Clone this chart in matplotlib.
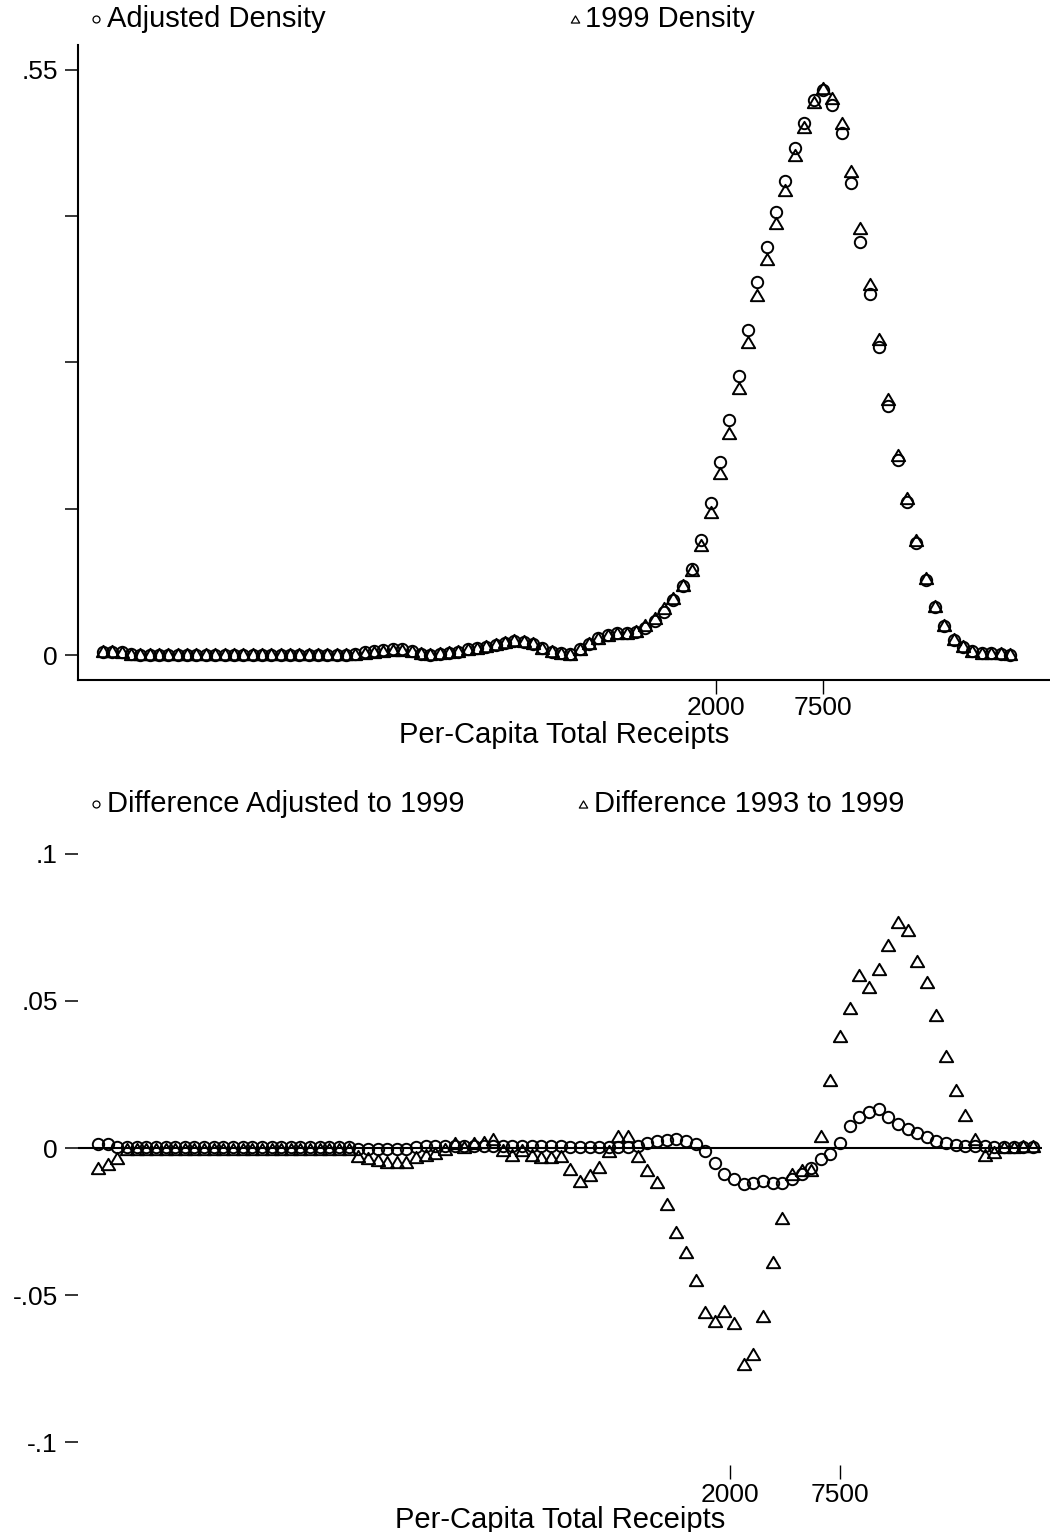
import numpy as np
import matplotlib
matplotlib.use("Agg")
import matplotlib.pyplot as plt
from matplotlib.path import Path
from matplotlib.lines import Line2D

plt.rcParams['font.family'] = ['Liberation Sans', 'DejaVu Sans']

# ---------------- data ----------------
# evaluation grid: log of per-capita total receipts (98 evenly spaced points)
ln_receipts = np.linspace(0.037, 11.23, 98)

density_1999 = [
    0.004, 0.004, 0.003, 0.001,
    0.0005, 0.0005, 0.0005, 0.0005, 0.0005, 0.0005, 0.0005, 0.0005, 0.0005, 0.0005,
    0.0005, 0.0005, 0.0005, 0.0005, 0.0005, 0.0005, 0.0005, 0.0005, 0.0005, 0.0005,
    0.0005, 0.0005, 0.0005,
    0.001, 0.002, 0.003, 0.004, 0.005, 0.005, 0.004, 0.002, 0.001, 0.002,
    0.003, 0.004, 0.006, 0.007, 0.008, 0.010, 0.012, 0.014, 0.013, 0.011,
    0.007, 0.004, 0.002, 0.001, 0.006, 0.011, 0.016, 0.019, 0.021, 0.021,
    0.023, 0.028, 0.035, 0.044, 0.054, 0.066, 0.080, 0.1034, 0.1344, 0.1708,
    0.2087, 0.2507, 0.2946, 0.3385, 0.372, 0.406, 0.437, 0.470, 0.4967, 0.5202,
    0.533, 0.5234, 0.5005, 0.4553, 0.4012, 0.3488, 0.2968, 0.2404, 0.188, 0.1473,
    0.108, 0.072, 0.046, 0.028, 0.015, 0.008, 0.004, 0.002, 0.002, 0.002, 0.001,
]

adjusted_density = [
    0.0026, 0.0026, 0.0025, 0.0007,
    0.0003, 0.0003, 0.0003, 0.0003, 0.0003, 0.0003, 0.0003, 0.0003, 0.0003, 0.0003,
    0.0003, 0.0003, 0.0003, 0.0003, 0.0003, 0.0003, 0.0003, 0.0003, 0.0003, 0.0003,
    0.0003, 0.0003, 0.0003,
    0.0014, 0.0024, 0.0034, 0.0044, 0.0054, 0.0054, 0.0035, 0.0012, 0.0002, 0.0012,
    0.0022, 0.0032, 0.0052, 0.0062, 0.0072, 0.0092, 0.0112, 0.0132, 0.0122, 0.0102,
    0.0062, 0.0032, 0.0017, 0.0007, 0.0057, 0.0107, 0.0157, 0.0187, 0.0207, 0.0204,
    0.0213, 0.0256, 0.0324, 0.0409, 0.0516, 0.0648, 0.081, 0.1085, 0.1431, 0.1815,
    0.2208, 0.2626, 0.3058, 0.3504, 0.3839, 0.4167, 0.4457, 0.4767, 0.5004, 0.5221,
    0.5313, 0.5170, 0.4910, 0.4440, 0.3885, 0.3390, 0.2893, 0.2345, 0.1835, 0.1440,
    0.1057, 0.0703, 0.0451, 0.0273, 0.0143, 0.0072, 0.0035, 0.0020, 0.0017, 0.0014, 0.0003,
]

diff_adjusted_to_1999 = [
    0.0014, 0.0014, 0.0005, 0.0003,
    0.0002, 0.0002, 0.0002, 0.0002, 0.0002, 0.0002, 0.0002, 0.0002, 0.0002, 0.0002,
    0.0002, 0.0002, 0.0002, 0.0002, 0.0002, 0.0002, 0.0002, 0.0002, 0.0002, 0.0002,
    0.0002, 0.0002, 0.0002,
    -0.0004, -0.0004, -0.0004, -0.0004, -0.0004, -0.0004, 0.0005, 0.0008, 0.0008, 0.0008,
    0.0008, 0.0008, 0.0008, 0.0008, 0.0008, 0.0008, 0.0008, 0.0008, 0.0008, 0.0008,
    0.0008, 0.0008, 0.0003, 0.0003, 0.0003, 0.0003, 0.0003, 0.0003, 0.0003, 0.0006,
    0.0017, 0.0024, 0.0026, 0.0031, 0.0024, 0.0012, -0.0010, -0.0051, -0.0087, -0.0107,
    -0.0121, -0.0119, -0.0112, -0.0119, -0.0119, -0.0107, -0.0087, -0.0067, -0.0037, -0.0019,
    0.0017, 0.0074, 0.0105, 0.0122, 0.0132, 0.0105, 0.0080, 0.0065, 0.0051, 0.0037,
    0.0023, 0.0017, 0.0009, 0.0007, 0.0007, 0.0006, 0.0003, 0.0003, 0.0003, 0.0003, 0.0003,
]

diff_1993_to_1999 = [
    -0.0069, -0.0056, -0.0035, -0.0005,
    -0.0005, -0.0005, -0.0005, -0.0005, -0.0005, -0.0005, -0.0005, -0.0005, -0.0005, -0.0005,
    -0.0005, -0.0005, -0.0005, -0.0005, -0.0005, -0.0005, -0.0005, -0.0005, -0.0005, -0.0005,
    -0.0005, -0.0005, -0.0005,
    -0.0027, -0.0035, -0.0040, -0.0047, -0.0047, -0.0047, -0.0030, -0.0024, -0.0018, -0.0005,
    0.0016, 0.0005, 0.0018, 0.0022, 0.0030, -0.0007, -0.0024, -0.0007, -0.0024, -0.0030,
    -0.0030, -0.0028, -0.0070, -0.0113, -0.0093, -0.0065, -0.0010, 0.0040, 0.0040, -0.0028,
    -0.0076, -0.0117, -0.0189, -0.0286, -0.0354, -0.0450, -0.0558, -0.0588, -0.0554, -0.0594,
    -0.0734, -0.0700, -0.0573, -0.0388, -0.0237, -0.0090, -0.0076, -0.0074, 0.0040, 0.0232,
    0.0382, 0.0475, 0.0587, 0.0548, 0.0610, 0.0689, 0.0769, 0.0740, 0.0635, 0.0565,
    0.0451, 0.0313, 0.0196, 0.0111, 0.0032, -0.0025, -0.0014, 0.0003, 0.0003, 0.0006, 0.0007,
]

x_tick_receipts = [2000, 7500]
x_tick_labels = ['2000', '7500']
top_y_ticks = [0, 0.1375, 0.275, 0.4125, 0.55]
top_y_labels = ['0', '', '', '', '.55']
bottom_y_ticks = [-0.1, -0.05, 0, 0.05, 0.1]
bottom_y_labels = ['-.1', '-.05', '0', '.05', '.1']
x_title = 'Per-Capita Total Receipts'
top_legend = ['Adjusted Density', '1999 Density']
bottom_legend = ['Difference Adjusted to 1999', 'Difference 1993 to 1999']

# ---------------- style ----------------
W, H = 1050, 1532
DPI = 100
FS = 21
TFS = 19
LW = 1.5
tri = Path([(-1, -0.85), (1, -0.85), (0, 0.85), (-1, -0.85)],
           [Path.MOVETO, Path.LINETO, Path.LINETO, Path.CLOSEPOLY])
circ_kw = dict(linestyle='none', marker='o', ms=8.2, mfc='none', mec='black', mew=1.4)
tri_kw = dict(linestyle='none', marker=tri, ms=9.6, mfc='none', mec='black', mew=1.4)

fig = plt.figure(figsize=(W / DPI, H / DPI), dpi=DPI)
fig.patch.set_facecolor('white')


def px_axes(left, top, right, bottom):
    return fig.add_axes([left / W, 1 - bottom / H, (right - left) / W, (bottom - top) / H])


x_ticks = np.log(x_tick_receipts)

# ---------------- top panel ----------------
ax1 = px_axes(78, 45, 1050, 680)
ax1.plot(ln_receipts, adjusted_density, **circ_kw, clip_on=False)
ax1.plot(ln_receipts, density_1999, **tri_kw, clip_on=False)
ax1.set_xlim(-0.271, 11.725)
ax1.set_ylim(-0.0235, 0.5735)
for s in ['top', 'right']:
    ax1.spines[s].set_visible(False)
for s in ['left', 'bottom']:
    ax1.spines[s].set_linewidth(LW)
ax1.set_yticks(top_y_ticks)
ax1.set_yticklabels(top_y_labels)
ax1.set_xticks(x_ticks)
ax1.set_xticklabels(x_tick_labels)
ax1.tick_params(axis='y', direction='out', length=9.5, width=1.1, pad=5, labelsize=TFS)
ax1.tick_params(axis='x', direction='out', length=10, width=1.0, pad=1.7, labelsize=TFS)
ax1.set_xlabel(x_title, fontsize=FS, labelpad=0.2)

# ---------------- bottom panel ----------------
ax2 = px_axes(78, 831, 1042, 1465)
ax2.axhline(0, color='black', lw=LW, zorder=1)
ax2.plot(ln_receipts, diff_adjusted_to_1999, **circ_kw, clip_on=False, zorder=2)
ax2.plot(ln_receipts, diff_1993_to_1999, **tri_kw, clip_on=False, zorder=3)
ax2.set_xlim(-0.203, 11.34)
ax2.set_ylim(-0.1078, 0.1078)
for s in ax2.spines.values():
    s.set_visible(False)
ax2.set_yticks(bottom_y_ticks)
ax2.set_yticklabels(bottom_y_labels)
ax2.set_xticks(x_ticks)
ax2.set_xticklabels(x_tick_labels)
ax2.tick_params(axis='y', direction='out', length=9.5, width=1.1, pad=5, labelsize=TFS)
ax2.tick_params(axis='x', direction='out', length=10, width=1.0, pad=3.2, labelsize=TFS)
ax2.set_xlabel(x_title, fontsize=FS, labelpad=-0.8)

# ---------------- legends (figure level) ----------------
def legend_item(kind, mx, tx, y, text):
    yf = 1 - y / H
    kw = dict(linestyle='none', mfc='none', mec='black', mew=0.9)
    if kind == 'o':
        m = Line2D([mx / W], [yf], marker='o', ms=5, transform=fig.transFigure, **kw)
    else:
        m = Line2D([mx / W], [yf], marker=tri, ms=6, transform=fig.transFigure, **kw)
    fig.add_artist(m)
    fig.text(tx / W, yf, text, fontsize=FS, ha='left', va='center')


legend_item('o', 96, 107, 19, top_legend[0])
legend_item('^', 575, 585, 19, top_legend[1])
legend_item('o', 96, 107, 804, bottom_legend[0])
legend_item('^', 583, 594, 804, bottom_legend[1])

fig.savefig('out.png', dpi=DPI, facecolor='white')
